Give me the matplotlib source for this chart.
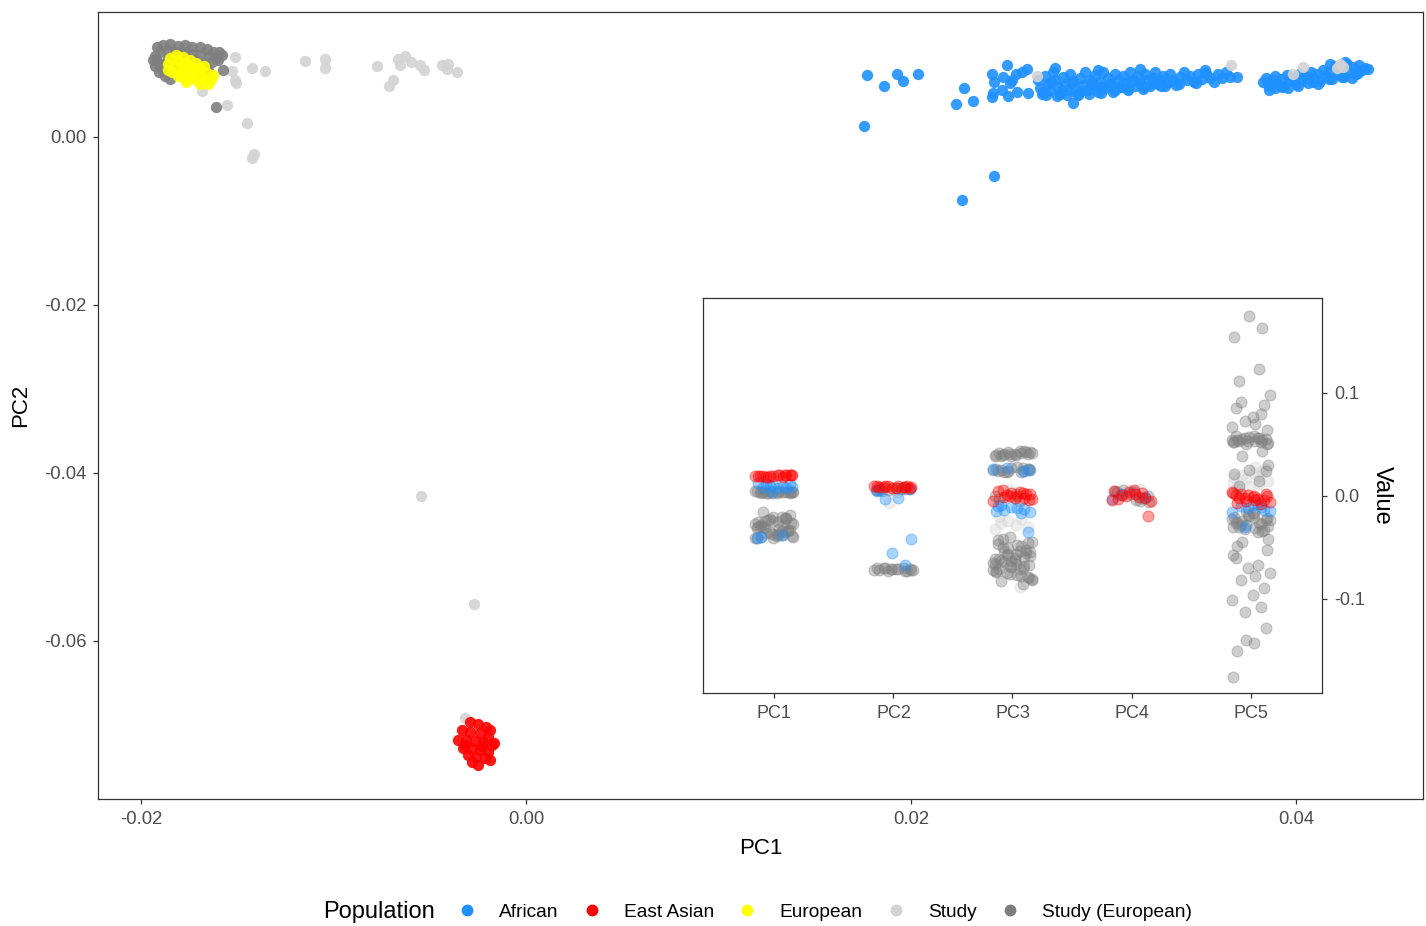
import numpy as np
import matplotlib
matplotlib.use("Agg")
import matplotlib.pyplot as plt
from matplotlib.lines import Line2D

plt.rcParams['font.family'] = ['Liberation Sans', 'DejaVu Sans']

populations = ["African", "East Asian", "European", "Study", "Study (European)"]
pop_colors = ["#1E90FF", "#FF0000", "#FFFF00", "#D3D3D3", "#7F7F7F"]

# ---- PC1 / PC2 coordinates per population ----
african_pc1 = [0.01756, 0.01771, 0.01860, 0.01927, 0.01958, 0.02036, 0.02234, 0.02275, 0.02322,
               0.02265, 0.02431, 0.02421, 0.02431, 0.02478, 0.02499, 0.02473, 0.02426, 0.02421,
               0.02504, 0.02551, 0.02608, 0.02525, 0.02545, 0.02577, 0.02603, 0.02514, 0.02842,
               0.02748,
               0.02660, 0.02670, 0.02681, 0.02696, 0.02712, 0.02722, 0.02738, 0.02748, 0.02764,
               0.02774, 0.02790, 0.02800, 0.02816, 0.02826, 0.02842, 0.02852, 0.02868, 0.02878,
               0.02894, 0.02904, 0.02920, 0.02930, 0.02946, 0.02956, 0.02971, 0.02982, 0.02997,
               0.03008, 0.03023, 0.03034, 0.03049, 0.03060, 0.03075, 0.03086, 0.03101, 0.03112,
               0.03127, 0.03138, 0.03153, 0.03164, 0.03179, 0.03190, 0.03205, 0.03216, 0.03231,
               0.03242, 0.03257, 0.03268, 0.03283, 0.03294, 0.03309, 0.03320, 0.03335, 0.03346,
               0.03361, 0.03377, 0.03397, 0.03418, 0.03434, 0.03449, 0.03470, 0.03491, 0.03512,
               0.03532, 0.03553, 0.03574, 0.03595, 0.03616, 0.03636, 0.03657, 0.03694,
               0.02971, 0.03190, 0.03527,
               0.02685, 0.02730, 0.02780, 0.02835, 0.02885, 0.02940, 0.02990, 0.03040, 0.03095,
               0.03145, 0.03200, 0.03250,
               0.02700, 0.02760, 0.02810, 0.02870, 0.02925, 0.02985, 0.03060, 0.03130, 0.03210,
               0.03300, 0.03390, 0.03480,
               0.03829, 0.03844, 0.03855, 0.03875, 0.03891, 0.03906, 0.03922, 0.03938, 0.03953,
               0.03969, 0.03984, 0.04000, 0.04016, 0.04031, 0.04047, 0.04062, 0.04078, 0.04094,
               0.04109, 0.04125, 0.04140, 0.04156, 0.04171, 0.04187, 0.04203, 0.04218, 0.04234,
               0.04249, 0.04265, 0.04281, 0.04296, 0.04312, 0.04327, 0.04343, 0.04358, 0.04374,
               0.04255, 0.04291, 0.04177, 0.04114, 0.04062, 0.03958, 0.03891,
               0.03860, 0.03930, 0.04010, 0.04090, 0.04170, 0.04240, 0.04320]
african_pc2 = [0.00131, 0.00738, 0.00607, 0.00750, 0.00667, 0.00750, 0.00393, 0.00583, 0.00429,
               -0.00750, -0.00464, 0.00750, 0.00655, 0.00714, 0.00857, 0.00560, 0.00524, 0.00476,
               0.00488, 0.00536, 0.00524, 0.00679, 0.00750, 0.00774, 0.00810, 0.00643, 0.00405,
               0.00821,
               0.00679, 0.00583, 0.00512, 0.00726, 0.00631, 0.00560, 0.00774, 0.00679, 0.00595,
               0.00512, 0.00714, 0.00631, 0.00560, 0.00750, 0.00667, 0.00583, 0.00512, 0.00702,
               0.00619, 0.00774, 0.00560, 0.00679, 0.00607, 0.00738, 0.00536, 0.00655, 0.00774,
               0.00583, 0.00702, 0.00631, 0.00536, 0.00750, 0.00679, 0.00595, 0.00726, 0.00643,
               0.00560, 0.00774, 0.00679, 0.00607, 0.00726, 0.00643, 0.00571, 0.00750, 0.00679,
               0.00607, 0.00702, 0.00774, 0.00631, 0.00679, 0.00726, 0.00607, 0.00655, 0.00750,
               0.00679, 0.00619, 0.00714, 0.00774, 0.00679, 0.00726, 0.00655, 0.00750, 0.00690,
               0.00762, 0.00702, 0.00655, 0.00750, 0.00702, 0.00774, 0.00714, 0.00714,
               0.00798, 0.00810, 0.00798,
               0.00540, 0.00650, 0.00545, 0.00640, 0.00550, 0.00645, 0.00600, 0.00625, 0.00590,
               0.00660, 0.00610, 0.00640,
               0.00500, 0.00490, 0.00500, 0.00495, 0.00510, 0.00520, 0.00560, 0.00570, 0.00600,
               0.00610, 0.00630, 0.00640,
               0.00655, 0.00702, 0.00619, 0.00679, 0.00726, 0.00631, 0.00690, 0.00607, 0.00738,
               0.00667, 0.00702, 0.00631, 0.00750, 0.00679, 0.00726, 0.00643, 0.00774, 0.00702,
               0.00750, 0.00667, 0.00798, 0.00726, 0.00774, 0.00690, 0.00845, 0.00750, 0.00798,
               0.00714, 0.00869, 0.00774, 0.00833, 0.00750, 0.00857, 0.00798, 0.00821, 0.00810,
               0.00893, 0.00702, 0.00869, 0.00631, 0.00714, 0.00583, 0.00583,
               0.00560, 0.00600, 0.00610, 0.00650, 0.00690, 0.00720, 0.00760]

east_asian_pc1 = [-0.00291, -0.00249, -0.00208, -0.00187, -0.00332, -0.00291, -0.00239, -0.00197,
                  -0.00353, -0.00312, -0.00265, -0.00223, -0.00177, -0.00327, -0.00286, -0.00239,
                  -0.00197, -0.00166, -0.00301, -0.00260, -0.00213, -0.00249, -0.00280, -0.00187,
                  -0.00317, -0.00229]
east_asian_pc2 = [-0.06964, -0.06988, -0.07024, -0.07060, -0.07060, -0.07083, -0.07095, -0.07143,
                  -0.07179, -0.07179, -0.07190, -0.07202, -0.07238, -0.07274, -0.07274, -0.07298,
                  -0.07321, -0.07214, -0.07357, -0.07381, -0.07393, -0.07476, -0.07440, -0.07417,
                  -0.07238, -0.07250]

european_pc1 = [-0.01849, -0.01818, -0.01782, -0.01745, -0.01714, -0.01860, -0.01823, -0.01787,
                -0.01756, -0.01719, -0.01694, -0.01839, -0.01808, -0.01771, -0.01745, -0.01714,
                -0.01683, -0.01657, -0.01668, -0.01694, -0.01636, -0.01652, -0.01766, -0.01797,
                -0.01860, -0.01704, -0.01673, -0.01735, -0.01777, -0.01626, -0.01808]
european_pc2 = [0.00940, 0.00976, 0.00952, 0.00917, 0.00881, 0.00869, 0.00845, 0.00821,
                0.00798, 0.00774, 0.00821, 0.00774, 0.00726, 0.00690, 0.00702, 0.00679,
                0.00726, 0.00762, 0.00667, 0.00631, 0.00679, 0.00631, 0.00655, 0.00762,
                0.00798, 0.00750, 0.00845, 0.00845, 0.00881, 0.00738, 0.00917]

study_pc1 = [-0.01512, -0.01423, -0.01356, -0.01527, -0.01512, -0.01506, -0.01683, -0.01553,
             -0.01449, -0.01413, -0.01423, -0.01148, -0.01044, -0.01044, -0.00774, -0.00665,
             -0.00629, -0.00655, -0.00597, -0.00551, -0.00530, -0.00691, -0.00712, -0.00436,
             -0.00405, -0.00410, -0.00358, -0.00545, -0.00270, -0.00317, 0.02655, 0.03662,
             0.03984, 0.04036, 0.04213, 0.04229, 0.04244]
study_pc2 = [0.00952, 0.00821, 0.00786, 0.00786, 0.00679, 0.00643, 0.00548, 0.00381,
             0.00167, -0.00202, -0.00250, 0.00905, 0.00929, 0.00821, 0.00845, 0.00929,
             0.00964, 0.00857, 0.00893, 0.00857, 0.00798, 0.00679, 0.00607, 0.00857,
             0.00869, 0.00810, 0.00774, -0.04274, -0.05560, -0.06917, 0.00726, 0.00857,
             0.00750, 0.00833, 0.00821, 0.00869, 0.00833]

study_eur_pc1 = [-0.01917, -0.01886, -0.01849, -0.01808, -0.01771, -0.01735, -0.01694, -0.01657,
                 -0.01626, -0.01595, -0.01579, -0.01610, -0.01647, -0.01694, -0.01735, -0.01771,
                 -0.01818, -0.01860, -0.01901, -0.01927, -0.01917, -0.01927, -0.01901, -0.01886,
                 -0.01906, -0.01875, -0.01849, -0.01668, -0.01631, -0.01600, -0.01574, -0.01610,
                 -0.01719, -0.01797, -0.01860, -0.01839, -0.01694, -0.01652, -0.01938]
study_eur_pc2 = [0.01071, 0.01095, 0.01107, 0.01083, 0.01095, 0.01071, 0.01071, 0.01048,
                 0.01012, 0.01012, 0.00976, 0.00940, 0.00964, 0.00976, 0.00988, 0.01012,
                 0.01012, 0.01036, 0.01012, 0.00964, 0.00905, 0.00845, 0.00869, 0.00798,
                 0.00774, 0.00726, 0.00690, 0.00869, 0.00893, 0.00917, 0.00798, 0.00357,
                 0.00917, 0.00940, 0.00940, 0.00845, 0.00774, 0.00798, 0.00917]

# ---- per-sample values of the first five PCs (inset) ----
pcs = ["PC1", "PC2", "PC3", "PC4", "PC5"]
inset_study = {
    "PC1": [],
    "PC2": [-0.007, 0.004],
    "PC3": [-0.022, -0.026, -0.030, -0.024, -0.028, -0.020, -0.032, -0.088, 0.006],
    "PC4": [0.006, -0.003, 0.003, 0.007],
    "PC5": [0.028, 0.020, 0.015, 0.010, 0.024, 0.018, 0.012, 0.007, 0.026, 0.016, 0.022,
            0.009, 0.013, 0.019],
}
inset_study_eur = {
    "PC1": [0.004, 0.003, 0.005, 0.004, 0.003, 0.005, 0.004, 0.003, 0.004, 0.005, 0.004,
            0.003, 0.005, 0.004, 0.003, 0.004, 0.004, 0.005, 0.003, 0.004,
            -0.020, -0.022, -0.025, -0.028, -0.030, -0.033, -0.035, -0.038, -0.040, -0.041,
            -0.020, -0.024, -0.027, -0.031, -0.034, -0.037, -0.041, -0.021, -0.023, -0.026,
            -0.029, -0.032, -0.036, -0.039, -0.041, -0.021, -0.030, -0.038, -0.016, -0.018,
            -0.022, -0.025, -0.028, -0.031, -0.034, -0.037, -0.040, -0.024, -0.033, -0.039,
            -0.027, -0.035],
    "PC2": [0.007, 0.006, 0.008, 0.005, 0.007, 0.006, 0.008, 0.007, 0.006, 0.007,
            -0.071, -0.072, -0.070, -0.073, -0.071, -0.072, -0.070, -0.073, -0.071, -0.072,
            -0.071, -0.070, -0.072, -0.071, -0.073, -0.070],
    "PC3": [0.041, 0.043, 0.039, 0.044, 0.040, 0.042, 0.039, 0.041, 0.043, 0.040, 0.042,
            0.039, 0.044, 0.041, 0.042, 0.040, 0.043, 0.041,
            0.025, 0.027, 0.023, 0.026, 0.024, 0.028, 0.023, 0.025, 0.027, 0.024, 0.026, 0.023,
            0.025, 0.026, 0.024,
            0.002, -0.003, 0.000, -0.005,
            -0.040, -0.045, -0.050, -0.055, -0.060, -0.065, -0.070, -0.075, -0.080, -0.043,
            -0.048, -0.053, -0.058, -0.063, -0.068, -0.073, -0.078, -0.083, -0.046, -0.051,
            -0.056, -0.061, -0.066, -0.071, -0.076, -0.081, -0.042, -0.052, -0.062, -0.072,
            -0.085, -0.057, -0.067, -0.047, -0.077, -0.064, -0.054, -0.069, -0.059, -0.074,
            -0.049, -0.063, -0.079, -0.056, -0.066, -0.071, -0.061, -0.053, -0.068, -0.082],
    "PC4": [0.000, 0.004, -0.004, 0.006, -0.006, 0.002, -0.002, 0.005, -0.005, 0.001],
    "PC5": [0.054, 0.052, 0.056, 0.050, 0.058, 0.053, 0.055, 0.051, 0.057, 0.054, 0.052,
            0.056, 0.053, 0.055, 0.050, 0.058, 0.054, 0.052, 0.056, 0.053,
            0.098, 0.091, 0.088, 0.077, 0.067, 0.080, 0.073, 0.064, 0.085, 0.070, 0.039,
            0.030, 0.025, 0.044, 0.021, 0.015, 0.010, 0.024,
            -0.015, -0.020, -0.025, -0.030, -0.035, -0.018, -0.023, -0.028, -0.033, -0.017,
            -0.022, -0.027, -0.032, -0.021, -0.026, -0.031, -0.024, -0.029, -0.019, -0.034,
            -0.020, -0.026, -0.030, -0.023, -0.028, -0.017,
            -0.049, -0.057, -0.067, -0.070, -0.075, -0.082, -0.089, -0.096, -0.101, -0.108,
            -0.113, -0.052, -0.060, -0.078, -0.045, -0.042,
            0.175, 0.163, 0.154, 0.123, 0.112, -0.128, -0.140, -0.143, -0.151, -0.176],
}
inset_african = {
    "PC1": [0.012, 0.009, 0.011, 0.008, 0.013, 0.010, 0.009, 0.012, 0.010, 0.008,
            -0.040, -0.041, -0.038, 0.004],
    "PC2": [0.007, 0.006, -0.002, -0.003, -0.042, -0.055, -0.067, 0.005],
    "PC3": [0.026, 0.024, 0.027, 0.025, -0.010, -0.012, -0.014, -0.016, -0.011, -0.013,
            -0.015, -0.017, -0.009, -0.035],
    "PC4": [0.002, -0.001, 0.004, -0.003],
    "PC5": [-0.008, -0.012, -0.015, -0.010, -0.014, -0.009, -0.016, -0.011, -0.030],
}
inset_east_asian = {
    "PC1": [0.019, 0.020, 0.018, 0.020, 0.019, 0.020, 0.018, 0.020, 0.019, 0.020, 0.019,
            0.018, 0.019, 0.020, 0.019, 0.020],
    "PC2": [0.009, 0.010, 0.008, 0.010, 0.009, 0.010, 0.008, 0.009, 0.010, 0.010, 0.009,
            0.008, 0.009, 0.010],
    "PC3": [0.004, 0.000, -0.003, 0.006, 0.002, -0.002, -0.005, 0.003, 0.001, -0.004, 0.005,
            0.000, -0.001, 0.002, 0.003, -0.002],
    "PC4": [0.002, -0.003, 0.005, -0.001, 0.004, -0.005, 0.001, -0.002, 0.006, -0.004,
            0.003, 0.000, -0.019],
    "PC5": [-0.002, 0.002, -0.005, 0.000, -0.007, 0.003, -0.003, 0.001, -0.006, 0.002,
            -0.004, -0.001, 0.004, -0.008, -0.002, 0.000, 0.001, -0.004],
}

# horizontal spread used for the strip points
JITTER = [-0.15, 0.06, -0.02, 0.16, -0.08, 0.11, 0.02, -0.16, 0.09, -0.05, 0.14, -0.12,
          0.04, -0.07, 0.15, -0.01, 0.10, -0.14, 0.07, -0.10, 0.13, -0.04, 0.03, -0.11]

AXIS_COL = "#333333"
TICK_COL = "#4D4D4D"

W, H = 1426, 926
fig = plt.figure(figsize=(W / 100, H / 100), dpi=100)
ax = fig.add_axes([98 / W, (H - 799) / H, (1423 - 98) / W, (799 - 12) / H])

col = dict(zip(populations, pop_colors))
kw = dict(s=66, linewidths=0, alpha=0.9)
ax.scatter(african_pc1, african_pc2, color=col["African"], **kw)
ax.scatter(study_pc1, study_pc2, color=col["Study"], **kw)
ax.scatter(study_eur_pc1, study_eur_pc2, color=col["Study (European)"], **kw)
ax.scatter(european_pc1, european_pc2, color=col["European"], **kw)
ax.scatter(east_asian_pc1, east_asian_pc2, color=col["East Asian"], **kw)

ax.set_xlim(-0.02223, 0.0466)
ax.set_ylim(-0.07881, 0.01488)
ax.set_xticks([-0.02, 0.0, 0.02, 0.04])
ax.set_xticklabels(["-0.02", "0.00", "0.02", "0.04"])
ax.set_yticks([0.0, -0.02, -0.04, -0.06])
ax.set_yticklabels(["0.00", "-0.02", "-0.04", "-0.06"])
ax.set_xlabel("PC1", fontsize=16, labelpad=7)
ax.set_ylabel("PC2", fontsize=16, labelpad=9)

for sp in ax.spines.values():
    sp.set_color(AXIS_COL)
    sp.set_linewidth(0.9)
ax.tick_params(length=3.5, width=0.9, color=AXIS_COL, labelcolor=TICK_COL,
               labelsize=13.3, pad=5)

# inset: strip plot of PC values
axi = fig.add_axes([703 / W, (H - 693) / H, (1322 - 703) / W, (693 - 298) / H])
axi.set_facecolor("white")
layers = [("Study", inset_study, 0), ("Study (European)", inset_study_eur, 5),
          ("African", inset_african, 11), ("East Asian", inset_east_asian, 17)]
for name, vals, shift in layers:
    for k, pc in enumerate(pcs):
        v = vals[pc]
        if not v:
            continue
        off = np.resize(np.roll(JITTER, shift + 3 * k), len(v))
        axi.scatter(k + 1 + off, v, s=62, color=col[name], edgecolors=col[name],
                    linewidths=0.8, alpha=0.38)

axi.set_xlim(0.4, 5.6)
axi.set_ylim(-0.1913, 0.1922)
axi.set_xticks(range(1, 6))
axi.set_xticklabels(pcs)
axi.set_yticks([-0.1, 0.0, 0.1])
axi.set_yticklabels(["-0.1", "0.0", "0.1"])
axi.yaxis.tick_right()
axi.yaxis.set_label_position("right")
axi.set_ylabel("Value", fontsize=17, rotation=270, labelpad=20)
for sp in axi.spines.values():
    sp.set_color(AXIS_COL)
    sp.set_linewidth(0.9)
axi.tick_params(length=3.5, width=0.9, color=AXIS_COL, labelcolor=TICK_COL,
                labelsize=13, pad=5)

# legend along the bottom
handles = [Line2D([], [], marker="o", linestyle="", markersize=7.5, color=c) for c in pop_colors]
fig.text(323 / W, 14 / H, "Population", fontsize=17, va="center", ha="left")
fig.legend(handles, populations, loc="center left", bbox_to_anchor=(457 / W, 14 / H),
           ncol=5, frameon=False, fontsize=13.8, handlelength=1.0, handletextpad=1.17,
           columnspacing=1.25, borderpad=0, borderaxespad=0)

fig.savefig("out.png", dpi=100)
